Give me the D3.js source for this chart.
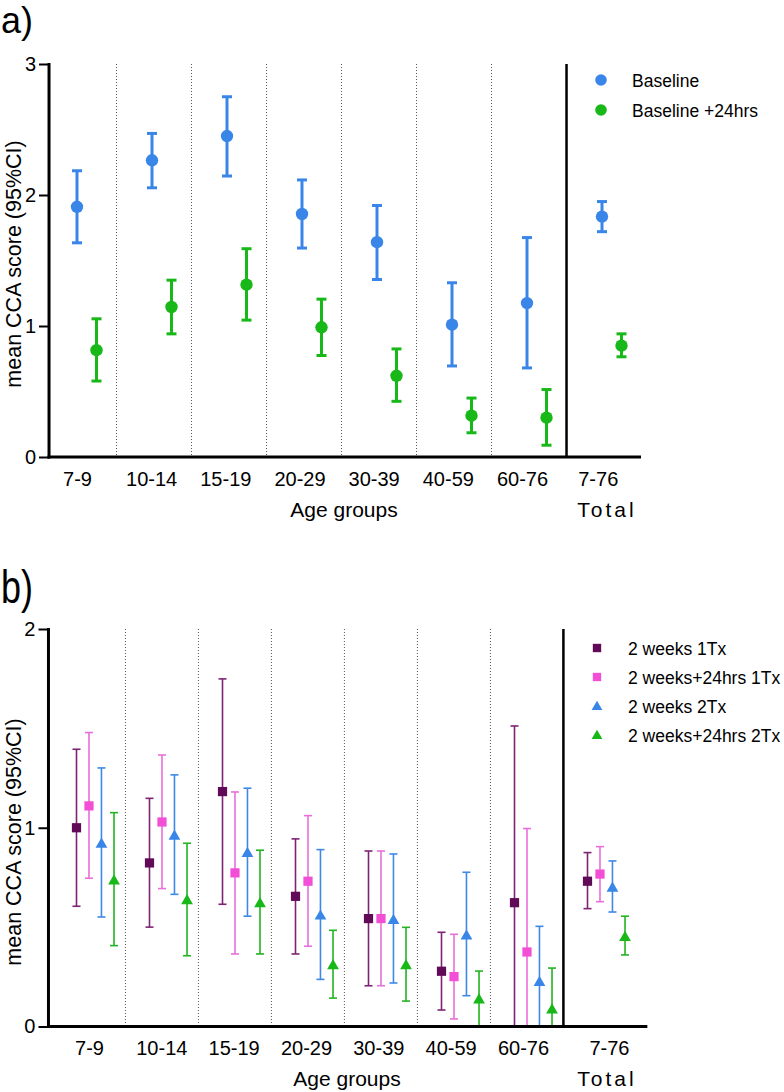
<!DOCTYPE html>
<html>
<head>
<meta charset="utf-8">
<script src="https://cdn.jsdelivr.net/npm/d3@7"></script>
<style>
  body { margin: 0; background: #fff; }
  svg { display: block; font-family: "Liberation Sans", Arial, sans-serif; }
</style>
</head>
<body>
<svg id="chart" width="784" height="1092"></svg>
<script>
// ---------------- DATA ----------------
const ageGroups = ["7-9", "10-14", "15-19", "20-29", "30-39", "40-59", "60-76"];
const totalGroup = "7-76";
const yTicksA = [0, 1, 2, 3];
const yTicksB = [0, 1, 2];

// Panel a (mean, lower CI, upper CI) — last value = Total
const baselineMean = [1.91, 2.265, 2.45, 1.855, 1.64, 1.01, 1.175, 1.835];
const baselineLow  = [1.635, 2.055, 2.145, 1.595, 1.355, 0.695, 0.68, 1.72];
const baselineHigh = [2.185, 2.47, 2.75, 2.115, 1.92, 1.33, 1.675, 1.95];
const plus24Mean   = [0.815, 1.145, 1.315, 0.99, 0.62, 0.315, 0.30, 0.85];
const plus24Low    = [0.58, 0.94, 1.045, 0.775, 0.425, 0.185, 0.09, 0.765];
const plus24High   = [1.055, 1.35, 1.59, 1.205, 0.825, 0.45, 0.515, 0.94];

// Panel b
const w2_1TxMean   = [1.0, 0.823, 1.182, 0.655, 0.543, 0.278, 0.623, 0.731];
const w2_1TxLow    = [0.605, 0.50, 0.615, 0.365, 0.205, 0.083, 0, 0.593];
const w2_1TxHigh   = [1.395, 1.148, 1.749, 0.944, 0.883, 0.474, 1.512, 0.875];
const w24_1TxMean  = [1.11, 1.029, 0.773, 0.731, 0.543, 0.251, 0.375, 0.767];
const w24_1TxLow   = [0.746, 0.694, 0.365, 0.404, 0.205, 0.038, 0, 0.628];
const w24_1TxHigh  = [1.479, 1.366, 1.18, 1.061, 0.883, 0.464, 0.996, 0.905];
const w2_2TxMean   = [0.922, 0.962, 0.875, 0.56, 0.538, 0.46, 0.226, 0.70];
const w2_2TxLow    = [0.551, 0.665, 0.555, 0.237, 0.219, 0.155, 0, 0.576];
const w2_2TxHigh   = [1.301, 1.266, 1.199, 0.89, 0.868, 0.776, 0.504, 0.833];
const w24_2TxMean  = [0.737, 0.637, 0.622, 0.31, 0.31, 0.138, 0.088, 0.452];
const w24_2TxLow   = [0.407, 0.356, 0.365, 0.143, 0.128, 0, 0, 0.36];
const w24_2TxHigh  = [1.076, 0.922, 0.887, 0.484, 0.499, 0.279, 0.294, 0.555];

const seriesA = [
  { name: "Baseline", mean: baselineMean, low: baselineLow, high: baselineHigh, color: "#3a86e8", offset: 0 },
  { name: "Baseline +24hrs", mean: plus24Mean, low: plus24Low, high: plus24High, color: "#17b817", offset: 0.26 }
];
const seriesB = [
  { name: "2 weeks 1Tx", mean: w2_1TxMean, low: w2_1TxLow, high: w2_1TxHigh, color: "#600a58", bar: "#7e2374", shape: "square", offset: 0 },
  { name: "2 weeks+24hrs 1Tx", mean: w24_1TxMean, low: w24_1TxLow, high: w24_1TxHigh, color: "#f24fd6", bar: "#ea6fda", shape: "square", offset: 0.171 },
  { name: "2 weeks 2Tx", mean: w2_2TxMean, low: w2_2TxLow, high: w2_2TxHigh, color: "#3a86e8", bar: "#3f88e6", shape: "triangle", offset: 0.342 },
  { name: "2 weeks+24hrs 2Tx", mean: w24_2TxMean, low: w24_2TxLow, high: w24_2TxHigh, color: "#17b817", bar: "#22b422", shape: "triangle", offset: 0.514 }
];

// ---------------- DRAW ----------------
const svg = d3.select("#chart");

function drawPanel(opt) {
  const g = svg.append("g");
  const x = d3.scaleLinear().domain([0, 1]).range(opt.xRange);
  const y = d3.scaleLinear().domain(opt.yDomain).range(opt.yRange);
  const yBottom = y(0), yTop = y(opt.yDomain[1]);
  const xLeft = x(opt.axisStart), xRight = x(opt.axisEnd);

  // dotted separators
  g.selectAll(".sep").data(d3.range(ageGroups.length - 1)).join("line")
    .attr("x1", k => x(k + opt.sepOffset)).attr("x2", k => x(k + opt.sepOffset))
    .attr("y1", yTop).attr("y2", yBottom)
    .attr("stroke", "#555").attr("stroke-width", 1).attr("stroke-dasharray", "1,2");
  // solid separator before Total
  g.append("line")
    .attr("x1", x(ageGroups.length - 1 + opt.sepOffset)).attr("x2", x(ageGroups.length - 1 + opt.sepOffset))
    .attr("y1", yTop).attr("y2", yBottom)
    .attr("stroke", "#000").attr("stroke-width", 2.5);

  // error bars & markers
  opt.series.forEach(s => {
    const sg = g.append("g");
    const idx = d3.range(s.mean.length);
    const cx = i => x(i + s.offset);
    const bc = s.bar || s.color;
    sg.selectAll(".v").data(idx).join("line")
      .attr("x1", cx).attr("x2", cx)
      .attr("y1", i => y(s.low[i])).attr("y2", i => y(s.high[i]))
      .attr("stroke", bc).attr("stroke-width", opt.barWidth);
    ["low", "high"].forEach(k => {
      sg.selectAll(".c" + k).data(idx).join("line")
        .attr("x1", i => cx(i) - opt.capHalf).attr("x2", i => cx(i) + opt.capHalf)
        .attr("y1", i => y(s[k][i])).attr("y2", i => y(s[k][i]))
        .attr("stroke", bc).attr("stroke-width", opt.barWidth);
    });
    if (opt.markers === "circle") {
      sg.selectAll("circle").data(idx).join("circle")
        .attr("cx", cx).attr("cy", i => y(s.mean[i])).attr("r", 6.2).attr("fill", s.color);
    } else {
      const sym = d3.symbol().type(s.shape === "square" ? d3.symbolSquare : d3.symbolTriangle)
        .size(s.shape === "square" ? 85 : 60);
      sg.selectAll("path").data(idx).join("path")
        .attr("d", sym)
        .attr("transform", i => `translate(${cx(i)},${y(s.mean[i]) + (s.shape === "triangle" ? 1 : 0)})`)
        .attr("fill", s.color);
    }
  });

  // y axis
  const yAxis = d3.axisLeft(y).tickValues(opt.yTicks).tickFormat(d3.format("d"))
    .tickSize(10).tickSizeOuter(0).tickPadding(3);
  const ya = g.append("g").attr("transform", `translate(${xLeft},0)`).call(yAxis);
  ya.select(".domain").attr("stroke", "#000").attr("stroke-width", 3).attr("d", `M0,${yTop - 1}V${yBottom + 1.5}`);
  ya.selectAll(".tick line").attr("stroke", "#000").attr("stroke-width", 2);
  ya.selectAll(".tick text").attr("font-size", 20).attr("fill", "#000")
    .attr("font-family", "Liberation Sans, Arial, sans-serif");

  // x axis line
  g.append("line").attr("x1", xLeft - 1.5).attr("x2", xRight)
    .attr("y1", yBottom).attr("y2", yBottom).attr("stroke", "#000").attr("stroke-width", 3);

  // x tick labels
  const labelX = d3.scalePoint().domain(ageGroups).range(opt.labelRange);
  g.selectAll(".xl").data(ageGroups).join("text")
    .attr("x", d => labelX(d)).attr("y", opt.labelY)
    .attr("text-anchor", "middle").attr("font-size", 20).text(d => d);
  g.append("text").attr("x", x(opt.totalLabelPos)).attr("y", opt.labelY)
    .attr("text-anchor", "middle").attr("font-size", 20).text(totalGroup);

  // axis titles
  g.append("text").attr("x", opt.ageTitleX).attr("y", opt.titleY)
    .attr("text-anchor", "middle").attr("font-size", 21).text("Age groups");
  g.append("text").attr("x", opt.totalTitleX).attr("y", opt.titleY)
    .attr("text-anchor", "middle").attr("font-size", 21).attr("letter-spacing", 3).text("Total");
  g.append("text")
    .attr("transform", `translate(${opt.yTitleX},${opt.yTitleY}) rotate(-90)`)
    .attr("text-anchor", "middle").attr("font-size", 21.5).text("mean CCA score (95%CI)");

  // panel letter
  g.append("text").attr("x", 1).attr("y", opt.letterY).attr("font-size", 36)
    .attr("transform", opt.letterTransform || null)
    .text(opt.letter);

  // legend
  const lg = g.append("g");
  opt.series.forEach((s, i) => {
    const ly = opt.legendY + i * opt.legendStep;
    if (opt.markers === "circle") {
      lg.append("circle").attr("cx", opt.legendMarkX).attr("cy", ly).attr("r", 5.8).attr("fill", s.color);
    } else {
      const sym = d3.symbol().type(s.shape === "square" ? d3.symbolSquare : d3.symbolTriangle)
        .size(s.shape === "square" ? 70 : 50);
      lg.append("path").attr("d", sym).attr("fill", s.color)
        .attr("transform", `translate(${opt.legendMarkX},${ly + (s.shape === "triangle" ? 1 : 0)})`);
    }
    lg.append("text").attr("x", opt.legendTextX).attr("y", ly + 6.5)
      .attr("font-size", 17.5).text(s.name);
  });
}

drawPanel({
  letter: "a)", letterY: 33,
  series: seriesA, markers: "circle",
  xRange: [77, 152], yDomain: [0, 3], yRange: [457, 64], yTicks: yTicksA,
  axisStart: -0.373, axisEnd: 7.52, sepOffset: 0.527,
  barWidth: 3, capHalf: 5,
  labelRange: [77.5, 522.5], totalLabelPos: 6.95, labelY: 486,
  ageTitleX: 344, totalTitleX: 607, titleY: 517,
  yTitleX: 21, yTitleY: 264,
  legendY: 80, legendStep: 30, legendMarkX: 601, legendTextX: 632
});

drawPanel({
  letter: "b)", letterY: 603, letterTransform: "translate(0,-166) scale(1,1.275)",
  series: seriesB, markers: "symbol",
  xRange: [76.5, 149.5], yDomain: [0, 2], yRange: [1026.5, 629], yTicks: yTicksB,
  axisStart: -0.384, axisEnd: 7.82, sepOffset: 0.67,
  barWidth: 1.6, capHalf: 4,
  labelRange: [89.5, 523.5], totalLabelPos: 7.3, labelY: 1055,
  ageTitleX: 347, totalTitleX: 607, titleY: 1086,
  yTitleX: 21, yTitleY: 842,
  legendY: 648, legendStep: 29, legendMarkX: 597, legendTextX: 628
});
</script>
</body>
</html>
